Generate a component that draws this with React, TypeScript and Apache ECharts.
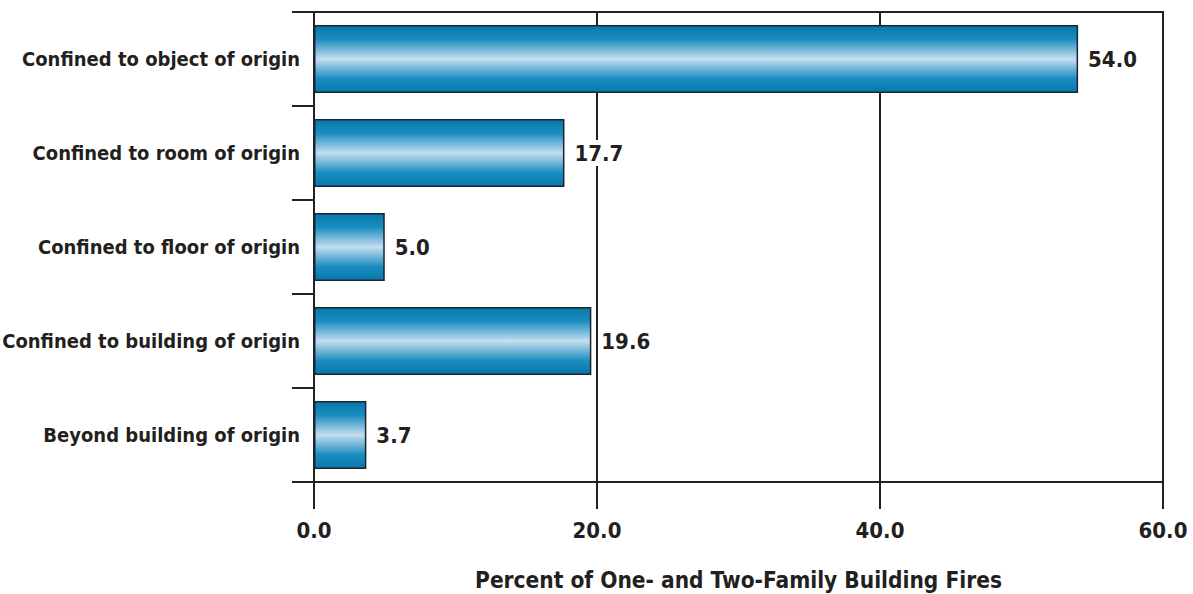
import React, { useEffect, useRef } from "react";
import * as echarts from "echarts";

const categories = [
  "Confined to object of origin",
  "Confined to room of origin",
  "Confined to floor of origin",
  "Confined to building of origin",
  "Beyond building of origin",
];
const values = [54.0, 17.7, 5.0, 19.6, 3.7];
const xTicks = [0, 20, 40, 60];
const axisTitle = "Percent of One- and Two-Family Building Fires";

const FONT = "'DejaVu Sans Condensed', 'Liberation Sans Narrow', Arial, sans-serif";

export default function App() {
  const ref = useRef<HTMLDivElement>(null);
  useEffect(() => {
    if (!ref.current) return;
    const chart = echarts.init(ref.current, null, { renderer: "svg" });
    const grad = new echarts.graphic.LinearGradient(0, 0, 0, 1, [
      { offset: 0, color: "#0878aa" },
      { offset: 0.2, color: "#1a8cbf" },
      { offset: 0.5, color: "#c4def0" },
      { offset: 0.8, color: "#1a8cbf" },
      { offset: 1, color: "#0878aa" },
    ]);
    chart.setOption({
      animation: false,
      grid: {
        left: 314,
        right: 30,
        top: 12,
        bottom: 112,
        show: true,
        borderColor: "#222",
        borderWidth: 2,
        backgroundColor: "transparent",
        containLabel: false,
        outerBoundsMode: "none",
      },
      xAxis: {
        type: "value",
        min: xTicks[0],
        max: xTicks[xTicks.length - 1],
        interval: 20,
        name: axisTitle,
        nameLocation: "middle",
        nameGap: 86,
        nameTextStyle: { fontFamily: FONT, fontWeight: "bold", fontSize: 22.5, color: "#231f20" },
        axisLine: { show: true, lineStyle: { color: "#222", width: 2 } },
        axisTick: { show: true, length: 27, lineStyle: { color: "#222", width: 2 } },
        splitLine: { show: true, lineStyle: { color: "#222", width: 2 } },
        axisLabel: {
          formatter: (v: number) => v.toFixed(1),
          fontFamily: FONT,
          fontWeight: "bold",
          fontSize: 22,
          color: "#231f20",
          margin: 37,
        },
      },
      yAxis: {
        type: "category",
        data: categories,
        inverse: true,
        axisLine: { show: true, lineStyle: { color: "#222", width: 2 } },
        axisTick: { show: true, length: 22, alignWithLabel: false, lineStyle: { color: "#222", width: 2 } },
        axisLabel: {
          fontFamily: FONT,
          fontWeight: "bold",
          fontSize: 20,
          color: "#231f20",
          margin: 14,
        },
      },
      series: [
        {
          type: "bar",
          data: values,
          barWidth: 68,
          itemStyle: { color: grad, borderColor: "#1c2430", borderWidth: 1.5 },
          label: {
            show: true,
            position: "right",
            distance: 10,
            formatter: (p: any) => Number(p.value).toFixed(1),
            fontFamily: FONT,
            fontWeight: "bold",
            fontSize: 22,
            color: "#231f20",
            backgroundColor: "#fff",
            padding: [2, 0],
          },
        },
      ],
    });
    return () => chart.dispose();
  }, []);
  return <div ref={ref} style={{ width: 1193, height: 594, position: "absolute", left: 0, top: 0, background: "#fff" }} />;
}
